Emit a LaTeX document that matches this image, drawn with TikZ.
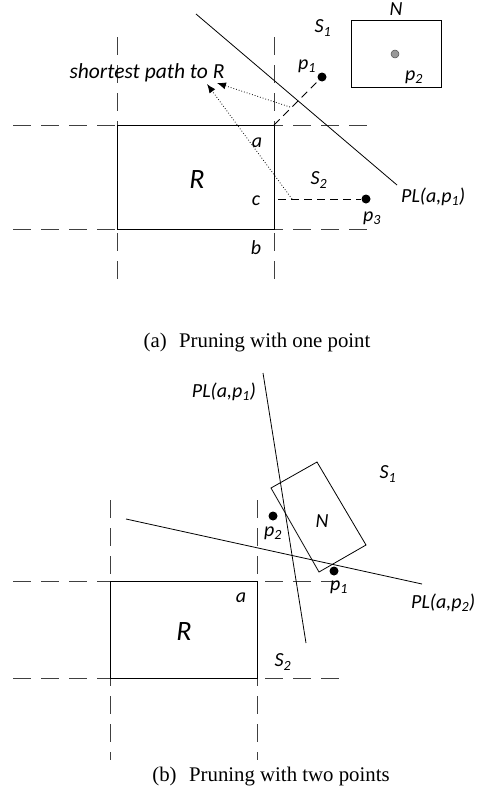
\documentclass[tikz,border=0pt]{standalone}
\usepackage{fontspec}
\setmainfont{Liberation Serif}
\newfontfamily\lblfont{Carlito}
\usetikzlibrary{arrows.meta}
\tikzset{
  lbl/.style={font=\lblfont\itshape\fontsize{20}{22}\selectfont, inner sep=0pt},
  bigR/.style={font=\lblfont\itshape\fontsize{28}{30}\selectfont, inner sep=0pt},
  captext/.style={font=\fontsize{20.8}{23}\selectfont, inner sep=0pt},
  gridline/.style={dash pattern=on 18pt off 10pt, line width=0.8pt, draw=black!75},
  shortdash/.style={dash pattern=on 8pt off 5pt, line width=0.8pt},
  solidline/.style={line width=0.8pt},
  dot/.style={circle, fill=black, inner sep=0pt, minimum size=9pt},
  graydot/.style={circle, fill=black!40, draw=black!70, line width=0.5pt, inner sep=0pt, minimum size=8pt},
  patharrow/.style={dotted, line width=0.8pt, -{Latex[length=9pt,width=7pt]}},
}
\begin{document}
\begin{tikzpicture}[x=1pt,y=-1pt]
\useasboundingbox (0,0) rectangle (477,803);
% ---------------- (a) ----------------
\coordinate (av1t) at (117,37);  \coordinate (av1b) at (117,280);
\coordinate (av2t) at (274,37);  \coordinate (av2b) at (274,280);
\coordinate (ah1l) at (13,125);  \coordinate (ah1r) at (372,125);
\coordinate (ah2l) at (13,229);  \coordinate (ah2r) at (372,229);
\draw[gridline] (av1t) -- (av1b);
\draw[gridline] (av2t) -- (av2b);
\draw[gridline] (ah1l) -- (ah1r);
\draw[gridline] (ah2l) -- (ah2r);
\coordinate (aRtl) at (117,125); \coordinate (aRbr) at (274,229);
\coordinate (acorner) at (274,125);
\draw[solidline] (aRtl) rectangle (aRbr);
\node[bigR] (aR) at (197,180) {R};
\node[lbl] (aa) at (257,143) {a};
\node[lbl] (ac) at (256,201) {c};
\node[lbl] (ab) at (256,248) {b};
% PL line
\coordinate (aPL1) at (196,14); \coordinate (aPL2) at (397,185);
\draw[solidline] (aPL1) -- (aPL2);
\node[lbl, anchor=west] (aPLlbl) at (401,197) {PL(a,p\textsubscript{1})};
% N box
\coordinate (aNtl) at (351,20); \coordinate (aNbr) at (441,87);
\draw[solidline] (aNtl) rectangle (aNbr);
\node[lbl] (aN) at (396,9) {N};
\node[lbl] (aS1) at (323,28) {S\textsubscript{1}};
\node[graydot] (ap2) at (395,54) {};
\node[lbl] (ap2l) at (414,77) {p\textsubscript{2}};
\node[dot] (ap1) at (322,77) {};
\node[lbl] (ap1l) at (307,66) {p\textsubscript{1}};
\node[dot] (ap3) at (366,199) {};
\node[lbl] (ap3l) at (372,218) {p\textsubscript{3}};
\node[lbl] (aS2) at (319,180) {S\textsubscript{2}};
% dashed to p1 and p3
\draw[shortdash] (acorner) -- (ap1);
\coordinate (acpt) at (278,199);
\draw[shortdash] (acpt) -- (ap3);
% shortest path
\node[lbl, font=\lblfont\itshape\fontsize{21.5}{24}\selectfont] (asp) at (147,73) {shortest path to R};
\coordinate (aq1) at (290,107); \coordinate (aq2) at (292,199);
\coordinate (aarr1) at (217,83); \coordinate (aarr2) at (207,84);
\draw[patharrow] (aq1) -- (aarr1);
\draw[patharrow] (aq2) -- (aarr2);
\node[captext] (capa) at (257,343) {(a)\hspace{0.6em}Pruning with one point};
% ---------------- (b) ----------------
\coordinate (bv1t) at (110,500); \coordinate (bv1b) at (110,760);
\coordinate (bv2t) at (257,500); \coordinate (bv2b) at (257,760);
\coordinate (bh1l) at (13,581);  \coordinate (bh1r) at (347,581);
\coordinate (bh2l) at (13,678);  \coordinate (bh2r) at (347,678);
\draw[gridline] (bv1t) -- (bv1b);
\draw[gridline] (bv2t) -- (bv2b);
\draw[gridline] (bh1l) -- (bh1r);
\draw[gridline] (bh2l) -- (bh2r);
\coordinate (bRtl) at (110,581); \coordinate (bRbr) at (257,678);
\draw[solidline] (bRtl) rectangle (bRbr);
\node[bigR] (bR) at (184,632) {R};
\node[lbl] (ba) at (241,598) {a};
\node[lbl] (bS2) at (283,662) {S\textsubscript{2}};
\node[lbl] (bS1) at (388,474) {S\textsubscript{1}};
% rotated N
\coordinate (bN1) at (271,488); \coordinate (bN2) at (317,462);
\coordinate (bN3) at (366,545); \coordinate (bN4) at (319,572);
\draw[solidline] (bN1) -- (bN2) -- (bN3) -- (bN4) -- cycle;
\node[lbl] (bN) at (322,521) {N};
% PL lines
\coordinate (bPa1) at (263,373); \coordinate (bPa2) at (306,643);
\draw[solidline] (bPa1) -- (bPa2);
\node[lbl] (bPalbl) at (224,392) {PL(a,p\textsubscript{1})};
\coordinate (bPb1) at (126,519); \coordinate (bPb2) at (422,584);
\draw[solidline] (bPb1) -- (bPb2);
\node[lbl, anchor=west] (bPblbl) at (411,603) {PL(a,p\textsubscript{2})};
\node[dot] (bp2) at (273,516) {};
\node[lbl] (bp2l) at (273,533) {p\textsubscript{2}};
\node[dot] (bp1) at (334,571) {};
\node[lbl] (bp1l) at (339,587) {p\textsubscript{1}};
\node[captext] (capb) at (271,777) {(b)\hspace{0.6em}Pruning with two points};
\end{tikzpicture}
\end{document}
